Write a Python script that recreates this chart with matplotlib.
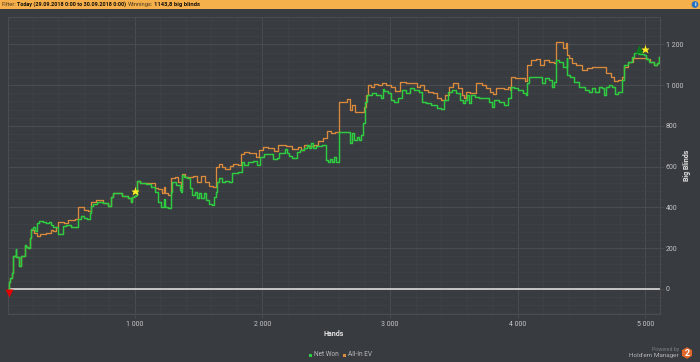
#!/usr/bin/env python3
import matplotlib
matplotlib.use('Agg')
import matplotlib.pyplot as plt
from matplotlib.patches import Rectangle, Circle, RegularPolygon
from matplotlib.ticker import FixedLocator, MultipleLocator, FixedFormatter

W, H = 700, 362
BG = '#383b3f'

net_hands = [7, 14, 30, 43, 46, 61, 69, 74, 93, 98, 106, 108, 135, 145, 155, 171, 179, 192, 213, 223, 244, 257, 297, 317, 336, 349, 375, 396, 406, 432, 448, 479, 519, 553, 563, 589, 610, 636, 655, 657, 683, 728, 767, 814, 819, 835, 871, 924, 963, 976, 984, 1002, 1015, 1020, 1067, 1107, 1146, 1172, 1193, 1224, 1237, 1243, 1277, 1284, 1297, 1342, 1360, 1368, 1376, 1394, 1428, 1441, 1459, 1478, 1493, 1512, 1533, 1551, 1569, 1590, 1616, 1629, 1642, 1648, 1674, 1695, 1721, 1752, 1778, 1838, 1843, 1864, 1904, 1943, 1972, 1990, 2034, 2068, 2095, 2126, 2139, 2173, 2183, 2204, 2217, 2243, 2262, 2283, 2309, 2335, 2361, 2374, 2387, 2400, 2439, 2492, 2500, 2523, 2539, 2557, 2570, 2583, 2601, 2604, 2648, 2682, 2695, 2714, 2727, 2753, 2766, 2784, 2795, 2818, 2826, 2844, 2871, 2910, 2941, 2949, 2962, 3001, 3022, 3041, 3080, 3106, 3145, 3171, 3210, 3237, 3263, 3302, 3333, 3354, 3380, 3419, 3433, 3472, 3498, 3537, 3558, 3584, 3597, 3615, 3628, 3642, 3694, 3707, 3759, 3785, 3811, 3824, 3877, 3903, 3942, 3955, 3981, 4021, 4060, 4073, 4078, 4099, 4151, 4177, 4203, 4230, 4256, 4282, 4295, 4308, 4334, 4373, 4381, 4386, 4392, 4426, 4465, 4504, 4556, 4569, 4595, 4622, 4648, 4674, 4687, 4700, 4726, 4760, 4765, 4805, 4818, 4823, 4844, 4883, 4909, 4922, 4974, 5000, 5013, 5053, 5079, 5105, 5110]
net_won = [1, 34, 55, 75, 160, 160, 196, 154, 154, 111, 111, 160, 160, 214, 203, 198, 247, 296, 305, 283, 321, 334, 329, 321, 326, 313, 305, 305, 268, 267, 308, 311, 305, 305, 345, 357, 349, 342, 370, 406, 416, 424, 419, 408, 449, 472, 468, 455, 444, 427, 452, 455, 461, 531, 521, 515, 498, 477, 428, 403, 439, 400, 395, 477, 526, 510, 485, 477, 559, 551, 542, 493, 461, 477, 444, 469, 444, 469, 436, 416, 411, 452, 477, 526, 542, 526, 531, 526, 567, 572, 624, 608, 624, 628, 608, 645, 662, 662, 637, 640, 665, 668, 686, 668, 652, 644, 640, 673, 681, 693, 706, 690, 714, 690, 703, 706, 632, 624, 637, 624, 645, 621, 624, 772, 768, 772, 714, 763, 730, 747, 730, 755, 812, 919, 952, 952, 960, 952, 936, 982, 973, 960, 928, 919, 936, 977, 960, 985, 977, 968, 919, 911, 903, 903, 887, 882, 928, 968, 977, 960, 928, 911, 928, 952, 911, 952, 944, 936, 936, 919, 892, 928, 919, 903, 936, 993, 988, 977, 960, 952, 1009, 1042, 1042, 1042, 1009, 1034, 1026, 993, 1018, 1124, 1116, 1091, 1091, 1132, 1050, 1042, 1018, 993, 977, 965, 985, 968, 993, 985, 952, 993, 1001, 993, 955, 965, 968, 1026, 1100, 1116, 1140, 1157, 1152, 1149, 1129, 1116, 1100, 1108, 1140]

ev_hands = [7, 14, 30, 43, 46, 61, 74, 93, 98, 106, 108, 135, 145, 155, 171, 179, 192, 223, 244, 270, 336, 344, 370, 388, 406, 440, 453, 506, 553, 563, 597, 610, 649, 657, 728, 767, 814, 819, 835, 871, 924, 963, 976, 984, 1002, 1015, 1020, 1067, 1107, 1146, 1172, 1198, 1224, 1237, 1243, 1271, 1295, 1329, 1342, 1355, 1363, 1381, 1407, 1446, 1473, 1499, 1538, 1569, 1590, 1629, 1648, 1676, 1695, 1726, 1760, 1786, 1825, 1843, 1872, 1917, 1943, 1964, 1982, 2021, 2074, 2113, 2131, 2165, 2204, 2257, 2296, 2309, 2335, 2387, 2426, 2453, 2492, 2523, 2549, 2596, 2599, 2648, 2680, 2695, 2714, 2740, 2784, 2805, 2818, 2831, 2871, 2884, 2923, 2949, 2988, 3028, 3054, 3101, 3145, 3197, 3223, 3250, 3276, 3315, 3354, 3380, 3419, 3446, 3472, 3511, 3550, 3576, 3589, 3608, 3642, 3702, 3733, 3772, 3798, 3824, 3837, 3877, 3916, 3937, 3942, 3955, 4008, 4047, 4073, 4081, 4125, 4164, 4190, 4230, 4269, 4295, 4313, 4334, 4373, 4386, 4392, 4413, 4439, 4478, 4530, 4556, 4608, 4674, 4713, 4752, 4765, 4805, 4831, 4844, 4883, 4922, 4974, 5000, 5021, 5053, 5079, 5105, 5110]
all_in_ev = [1, 34, 55, 75, 160, 160, 154, 154, 111, 111, 160, 160, 214, 203, 198, 247, 291, 272, 260, 268, 272, 291, 283, 305, 329, 329, 324, 337, 345, 400, 403, 386, 383, 427, 436, 422, 408, 449, 472, 468, 455, 444, 427, 452, 455, 461, 531, 521, 521, 518, 493, 488, 472, 502, 469, 460, 542, 551, 526, 526, 493, 564, 551, 551, 556, 526, 556, 526, 505, 501, 600, 613, 600, 588, 605, 613, 608, 662, 673, 665, 665, 645, 682, 698, 693, 678, 706, 706, 701, 685, 698, 681, 706, 703, 706, 727, 739, 776, 767, 772, 919, 919, 930, 878, 903, 870, 867, 894, 952, 1001, 993, 1006, 1001, 1013, 1001, 993, 973, 1018, 1009, 1009, 993, 1001, 977, 968, 960, 936, 928, 952, 993, 1009, 985, 952, 936, 968, 960, 1013, 1001, 985, 968, 957, 985, 985, 980, 993, 977, 1042, 1037, 1034, 1021, 1100, 1124, 1129, 1100, 1124, 1116, 1108, 1214, 1214, 1181, 1206, 1149, 1132, 1108, 1100, 1075, 1083, 1091, 1091, 1058, 1042, 1021, 1026, 1042, 1091, 1113, 1132, 1136, 1136, 1129, 1116, 1100, 1108, 1140]

x_ticks = [1000, 2000, 3000, 4000, 5000]
x_labels = ['1 000', '2 000', '3 000', '4 000', '5 000']
y_ticks = [0, 200, 400, 600, 800, 1000, 1200]
y_labels = ['0', '200', '400', '600', '800', '1 000', '1 200']

plt.rcParams['font.family'] = ['Roboto', 'DejaVu Sans']

fig = plt.figure(figsize=(W / 100, H / 100), dpi=100, facecolor=BG)


def fx(px):
    return px / W


def fy(py):
    return 1 - py / H


# plot area
left, right, top, bottom = 8, 660, 17, 314
ax = fig.add_axes([fx(left), fy(bottom), fx(right - left), (bottom - top) / H], facecolor=BG)
ax.set_xlim(6, 5116)
ax.set_ylim(-124, 1335)

ax.xaxis.set_major_locator(FixedLocator(x_ticks))
ax.xaxis.set_major_formatter(FixedFormatter(x_labels))
ax.xaxis.set_minor_locator(MultipleLocator(200))
ax.yaxis.set_major_locator(FixedLocator(y_ticks))
ax.yaxis.set_major_formatter(FixedFormatter(y_labels))
ax.yaxis.set_minor_locator(MultipleLocator(40))
ax.yaxis.tick_right()
ax.grid(which='major', color='#4a4d50', lw=0.8)
ax.grid(which='minor', color='#3f4245', lw=0.6)
ax.set_axisbelow(True)
ax.tick_params(which='major', length=3, width=0.6, color='#4a4d50', labelcolor='#c4c6c8', labelsize=5)
ax.tick_params(axis='x', which='major', pad=2)
ax.tick_params(axis='y', which='major', pad=1)
ax.tick_params(which='minor', length=1.5, width=0.5, color='#434649')
for side in ax.spines.values():
    side.set_color('#4a4d50')
    side.set_linewidth(0.8)

ax.axhline(0, color='#cfcfcf', lw=1.3, zorder=2)
ax.plot(ev_hands, all_in_ev, color='#d98a3d', lw=0.95, drawstyle='steps-mid', zorder=3)
ax.plot(net_hands, net_won, color='#2ecc40', lw=1.05, drawstyle='steps-mid', zorder=4)

ax.plot([16], [-20], marker='v', ms=5.5, color='#e00000', mec='none', clip_on=False, zorder=5)
ax.plot([4953], [1178], marker='^', ms=6, color='#0c7a1c', mec='none', zorder=5)
ax.plot([1000, 5000], [482, 1176], ls='none', marker='*', ms=6.5, color='#ffee22', mec='none', zorder=6)

fig.text(fx(334), fy(333.5), 'Hands', color='#e4e4e4', fontsize=5, fontweight='bold', ha='center', va='center')
fig.text(fx(687), fy(165), 'Big Blinds', color='#e4e4e4', fontsize=5, fontweight='bold', rotation=90, ha='center', va='center')

# header bar
fig.patches.append(Rectangle((0, fy(9)), 1, 9 / H, transform=fig.transFigure, facecolor='#f5b04c', edgecolor='none'))
fig.patches.append(Circle((695, H - 4.5), 3.4, transform=None, facecolor='#2a72c0', edgecolor='none'))
fig.text(fx(695), fy(4.5), 'i', color='white', fontsize=4.5, fontweight='bold', ha='center', va='center')
fig.text(fx(2), fy(4.6), 'Filter:', color='#4a3a20', fontsize=4.2, va='center')
fig.text(fx(17), fy(4.6), 'Today (29.09.2018 0:00 to 30.09.2018 0:00)', color='#15100a', fontsize=4, fontweight='bold', va='center')
fig.text(fx(128), fy(4.6), 'Winnings:', color='#4a3a20', fontsize=4.2, va='center')
fig.text(fx(154), fy(4.6), '1143,8 big blinds', color='#15100a', fontsize=4.2, fontweight='bold', va='center')

# legend
fig.patches.append(Rectangle((fx(308.5), fy(356.5)), 3 / W, 3 / H, transform=fig.transFigure, facecolor='#2ecc40', edgecolor='none'))
fig.text(fx(314), fy(355), 'Net Won', color='#b8babc', fontsize=4.7, va='center')
fig.patches.append(Rectangle((fx(342.5), fy(356.5)), 3 / W, 3 / H, transform=fig.transFigure, facecolor='#d98a3d', edgecolor='none'))
fig.text(fx(348), fy(355), 'All-In EV', color='#b8babc', fontsize=4.7, va='center')

# logo
fig.text(fx(679), fy(349), 'Powered by', color='#7d8082', fontsize=3.8, ha='right', va='center')
fig.text(fx(679), fy(355), "Hold'em Manager", color='#b4b6b8', fontsize=4.6, ha='right', va='center')
fig.patches.append(RegularPolygon((687, H - 353), 6, radius=5.8, transform=None, facecolor='#e0662a', edgecolor='none'))
fig.text(fx(687), fy(353), '2', color='white', fontsize=6.5, fontweight='bold', ha='center', va='center')

fig.savefig('out.png', dpi=100, facecolor=BG)
